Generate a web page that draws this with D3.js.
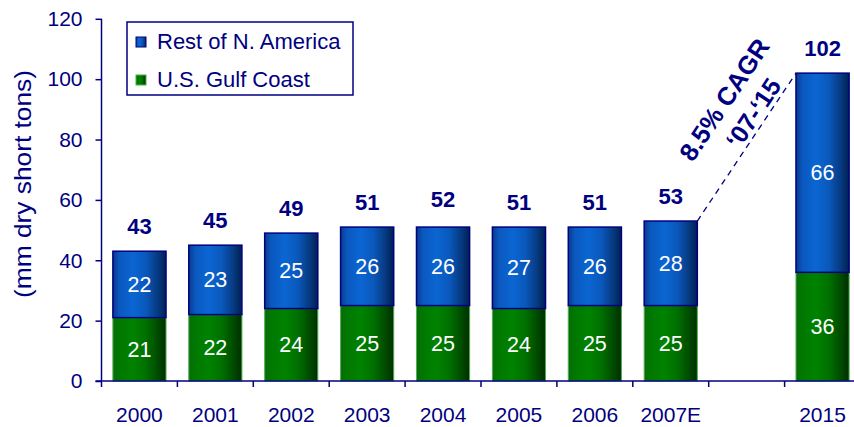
<!DOCTYPE html>
<html>
<head>
<meta charset="utf-8">
<script src="https://cdn.jsdelivr.net/npm/d3@7"></script>
<style>
  body { margin: 0; background: #fff; }
  text { font-family: "Liberation Sans", Arial, sans-serif; }
</style>
</head>
<body>
<div id="container"></div>
<script>
const WIDTH = 854;
const HEIGHT = 427;
const NAVY = "#000080";

var CATEGORIES = ["2000", "2001", "2002", "2003", "2004", "2005", "2006", "2007E", "", "2015"];
var GULF = [21, 22, 24, 25, 25, 24, 25, 25, null, 36];
var REST = [22, 23, 25, 26, 26, 27, 26, 28, null, 66];
var TOTALS = [43, 45, 49, 51, 52, 51, 51, 53, null, 102];
var Y_TICKS = [0, 20, 40, 60, 80, 100, 120];
var SERIES = ["Rest of N. America", "U.S. Gulf Coast"];
var CAGR_TEXT = ["8.5% CAGR", "\u201807-\u201815"];

var keys = CATEGORIES.map(function (c, i) { return c === "" ? "gap" + i : c; });

var XScale = d3.scaleBand().domain(keys).range([101.5, 860.5]).paddingInner(0.3).paddingOuter(0.15);
var YScale = d3.scaleLinear().domain([0, 120]).range([381, 18.8]);

var translate = function (x, y) { return "translate(" + x + "," + y + ")"; };

var addGradient = function (defs, id, stops) {
    var g = defs.append("linearGradient").attr("id", id)
        .attr("x1", "0%").attr("x2", "100%").attr("y1", "0%").attr("y2", "0%");
    stops.forEach(function (s) {
        g.append("stop").attr("offset", s[0]).attr("stop-color", s[1]);
    });
};

var generateChart = function () {
    var svg = d3.select("#container").append("svg")
        .attr("width", WIDTH).attr("height", HEIGHT);
    var defs = svg.append("defs");
    addGradient(defs, "blueGrad", [["0%", "#0a3a8a"], ["12%", "#0a58bf"], ["38%", "#0b66d2"],
        ["62%", "#0a58bc"], ["85%", "#06397f"], ["100%", "#021f52"]]);
    addGradient(defs, "greenGrad", [["0%", "#0a6a0a"], ["12%", "#007800"], ["38%", "#008200"],
        ["62%", "#007000"], ["85%", "#004a00"], ["100%", "#002e00"]]);

    var rows = keys.map(function (k, i) {
        return {key: k, gulf: GULF[i], rest: REST[i], total: TOTALS[i]};
    }).filter(function (d) { return d.total !== null; });

    var bw = XScale.bandwidth();

    // green segments
    svg.selectAll(".gulf").data(rows).enter().append("rect")
        .attr("class", "gulf")
        .attr("x", function (d) { return XScale(d.key); })
        .attr("y", function (d) { return YScale(d.gulf); })
        .attr("width", bw)
        .attr("height", function (d) { return YScale(0) - YScale(d.gulf); })
        .attr("fill", "url(#greenGrad)")
        .attr("stroke", "#4fae4f").attr("stroke-width", 1);

    // blue segments
    svg.selectAll(".rest").data(rows).enter().append("rect")
        .attr("class", "rest")
        .attr("x", function (d) { return XScale(d.key); })
        .attr("y", function (d) { return YScale(d.gulf + d.rest); })
        .attr("width", bw)
        .attr("height", function (d) { return YScale(d.gulf) - YScale(d.gulf + d.rest); })
        .attr("fill", "url(#blueGrad)")
        .attr("stroke", NAVY).attr("stroke-width", 1.5);

    // segment labels
    var segLabel = function (cls, val, base) {
        svg.selectAll("." + cls).data(rows).enter().append("text")
            .attr("class", cls)
            .attr("x", function (d) { return XScale(d.key) + bw / 2; })
            .attr("y", function (d) { return YScale(base(d) + d[val] / 2) + 7.5; })
            .attr("text-anchor", "middle")
            .attr("fill", "#fff").attr("font-size", 21.5)
            .text(function (d) { return d[val]; });
    };
    segLabel("gulfLbl", "gulf", function () { return 0; });
    segLabel("restLbl", "rest", function (d) { return d.gulf; });

    // totals
    svg.selectAll(".total").data(rows).enter().append("text")
        .attr("class", "total")
        .attr("x", function (d) { return XScale(d.key) + bw / 2; })
        .attr("y", function (d) { return YScale(d.total) - 17; })
        .attr("text-anchor", "middle")
        .attr("fill", NAVY).attr("font-size", 22).attr("font-weight", "bold")
        .text(function (d) { return d.total; });

    // y axis
    var yAxis = d3.axisLeft(YScale).tickValues(Y_TICKS).tickSize(6).tickPadding(13);
    var gy = svg.append("g").attr("transform", translate(101.5, 0)).call(yAxis);
    gy.select(".domain").attr("d", "M0," + YScale(0) + "V" + YScale(120));

    // x axis: ticks on band boundaries
    var step = XScale.step();
    var x0 = XScale.range()[0];
    var gx = svg.append("g").attr("transform", translate(0, YScale(0)));
    gx.append("line").attr("x1", x0 - 6).attr("x2", WIDTH).attr("y1", 0).attr("y2", 0)
        .attr("stroke", NAVY).attr("stroke-width", 1.5);
    gx.selectAll(".xt").data(d3.range(keys.length + 1)).enter().append("line")
        .attr("x1", function (i) { return x0 + i * step; })
        .attr("x2", function (i) { return x0 + i * step; })
        .attr("y1", 0).attr("y2", 6)
        .attr("stroke", NAVY).attr("stroke-width", 1.5);
    gx.selectAll(".xl").data(keys).enter().append("text")
        .attr("x", function (k) { return XScale(k) + bw / 2; })
        .attr("y", 41)
        .attr("text-anchor", "middle")
        .attr("fill", NAVY).attr("font-size", 21)
        .text(function (k, i) { return CATEGORIES[i]; });

    gy.selectAll("path, line").attr("stroke", NAVY).attr("stroke-width", 1.5);
    gy.selectAll("text").attr("fill", NAVY).attr("font-size", 21)
        .attr("font-family", "'Liberation Sans', Arial, sans-serif");

    // y title
    svg.append("text")
        .attr("transform", translate(31, 184) + " rotate(-90)")
        .attr("text-anchor", "middle")
        .attr("fill", NAVY).attr("font-size", 24)
        .attr("textLength", 228).attr("lengthAdjust", "spacingAndGlyphs")
        .text("(mm dry short tons)");

    // legend
    var lg = svg.append("g").attr("transform", translate(127, 22));
    lg.append("rect").attr("width", 226).attr("height", 73)
        .attr("fill", "#fff").attr("stroke", NAVY).attr("stroke-width", 1.5);
    var legFills = ["url(#blueGrad)", "url(#greenGrad)"];
    var legStroke = [NAVY, "#4fae4f"];
    SERIES.forEach(function (s, i) {
        var yy = 15 + i * 38;
        lg.append("rect").attr("x", 9).attr("y", yy).attr("width", 10).attr("height", 10)
            .attr("fill", legFills[i]).attr("stroke", legStroke[i]).attr("stroke-width", 1);
        lg.append("text").attr("x", 30).attr("y", yy + 12)
            .attr("fill", NAVY).attr("font-size", 22).text(s);
    });

    // CAGR annotation
    var a = rows[7], b = rows[8];
    var p1 = [XScale(a.key) + bw, YScale(a.gulf + a.rest)];
    var p2 = [XScale(b.key), YScale(b.gulf + b.rest)];
    svg.append("line")
        .attr("x1", p1[0]).attr("y1", p1[1]).attr("x2", p2[0]).attr("y2", p2[1])
        .attr("stroke", NAVY).attr("stroke-width", 1.3).attr("stroke-dasharray", "6,5");
    var ang = Math.atan2(p2[1] - p1[1], p2[0] - p1[0]) * 180 / Math.PI;
    var mid = [(p1[0] + p2[0]) / 2, (p1[1] + p2[1]) / 2];
    var ag = svg.append("g").attr("transform", translate(mid[0], mid[1]) + " rotate(" + ang + ")");
    ag.append("text").attr("x", 27).attr("y", -36).attr("text-anchor", "middle")
        .attr("fill", NAVY).attr("font-size", 25.5).attr("font-weight", "bold").text(CAGR_TEXT[0]);
    ag.append("text").attr("x", 32).attr("y", -4.5).attr("text-anchor", "middle")
        .attr("fill", NAVY).attr("font-size", 25).attr("font-weight", "bold").text(CAGR_TEXT[1]);
};

window.onload = generateChart;
</script>
</body>
</html>
